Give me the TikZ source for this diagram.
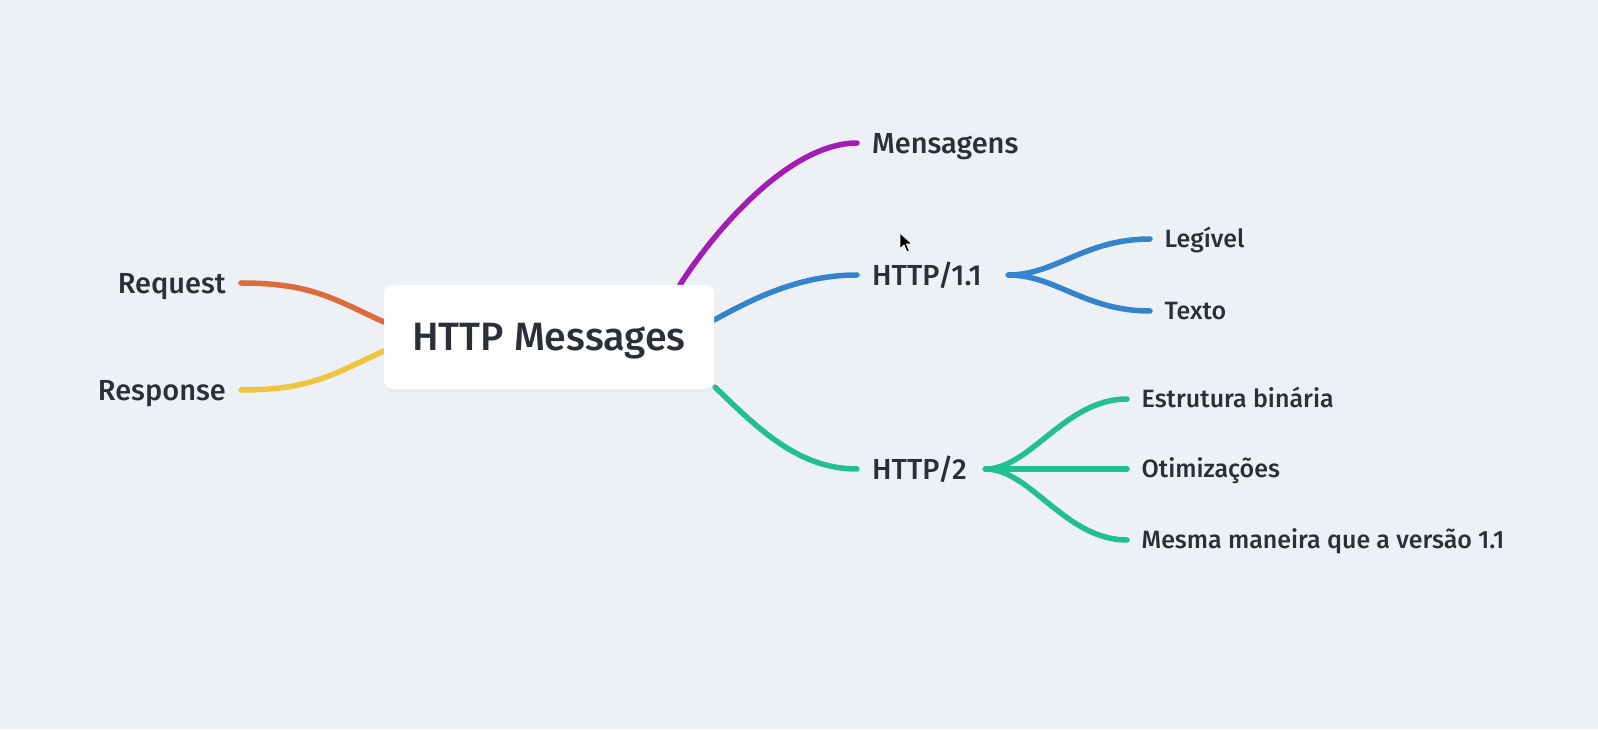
\documentclass[tikz,border=0pt]{standalone}
\usepackage{fontspec}
\setmainfont{Fira Sans}[UprightFont={* Medium}]
\usetikzlibrary{calc,shadows}
\definecolor{bgc}{HTML}{EDF1F5}
\definecolor{txt}{HTML}{2B3038}
\definecolor{corange}{HTML}{DD6B3B}
\definecolor{cyellow}{HTML}{EFC43F}
\definecolor{cpurple}{HTML}{A21CB5}
\definecolor{cblue}{HTML}{3484CD}
\definecolor{cgreen}{HTML}{22C08F}
\pgfdeclarelayer{bg}
\pgfdeclarelayer{edges}
\pgfsetlayers{bg,edges,main}
\begin{document}
\begin{tikzpicture}[x=1pt,y=1pt,
  rootbox/.style={fill=white, rounded corners=8pt, minimum width=330pt, minimum height=104pt,
    font=\fontsize{39.5}{45}\selectfont, text=txt, text height=27pt, text depth=0pt,
    drop shadow={opacity=0.05, shadow xshift=0pt, shadow yshift=-3pt}},
  midlbl/.style={font=\fontsize{29}{34}\selectfont, text=txt, inner xsep=15pt, inner ysep=0pt,
    text height=20.5pt, text depth=0pt},
  leaflbl/.style={font=\fontsize{25}{30}\selectfont, text=txt, inner xsep=14.5pt, inner ysep=0pt,
    text height=17pt, text depth=0pt},
  conn/.style={line width=5.5pt, line cap=round}]
\useasboundingbox (0,0) rectangle (1598,729);
\begin{pgfonlayer}{bg}
  \fill[bgc] (0,0) rectangle (1598,729);
\end{pgfonlayer}

% nodes
\node[rootbox] (root) at (549,392) {HTTP Messages};
\node[midlbl, anchor=east] (req) at (241,446) {Request};
\node[midlbl, anchor=east] (resp) at (241,339) {Response};
\node[midlbl, anchor=west] (mens) at (857,586) {Mensagens};
\node[midlbl, anchor=west, text width=121pt, align=left] (h11) at (857,454) {HTTP/1.1};
\node[midlbl, anchor=west, text width=98pt, align=left] (h2) at (857,260) {HTTP/2};
\node[leaflbl, anchor=west] (leg) at (1150,490) {Legível};
\node[leaflbl, anchor=west] (texto) at (1150,418) {Texto};
\node[leaflbl, anchor=west] (estr) at (1127,330) {Estrutura binária};
\node[leaflbl, anchor=west] (otim) at (1127,260) {Otimizações};
\node[leaflbl, anchor=west] (mesma) at (1127,189) {Mesma maneira que a versão 1.1};

% connectors
\begin{pgfonlayer}{edges}
  \draw[conn, corange] (req.east) .. controls +(70,0) and +(-50,23) .. ($(root.west)+(0,15)$);
  \draw[conn, cyellow] (resp.east) .. controls +(70,0) and +(-50,-23) .. ($(root.west)+(0,-14)$);
  \draw[conn, cpurple] ($(root.north)+(131,0)$) .. controls +(35,55) and +(-67,0) .. (mens.west);
  \draw[conn, cblue] ($(root.east)+(0,17)$) .. controls +(40,22) and +(-57,0) .. (h11.west);
  \draw[conn, cgreen] ($(root.south east)+(1,2)$) .. controls +(45,-44) and +(-57,0) .. (h2.west);
  \draw[conn, cblue] (h11.east) .. controls +(47,0) and +(-65,0) .. (leg.west);
  \draw[conn, cblue] (h11.east) .. controls +(47,0) and +(-65,0) .. (texto.west);
  \draw[conn, cgreen] (h2.east) .. controls +(45,0) and +(-62,0) .. (estr.west);
  \draw[conn, cgreen] (h2.east) -- (otim.west);
  \draw[conn, cgreen] (h2.east) .. controls +(45,0) and +(-62,0) .. (mesma.west);
\end{pgfonlayer}

% mouse pointer
\fill[black, draw=white, line width=0.8pt, line join=round]
  (900,496) -- (900,480) -- (904,484) -- (907,477) -- (909.5,478) -- (906.5,485) -- (912,485) -- cycle;
\end{tikzpicture}
\end{document}
